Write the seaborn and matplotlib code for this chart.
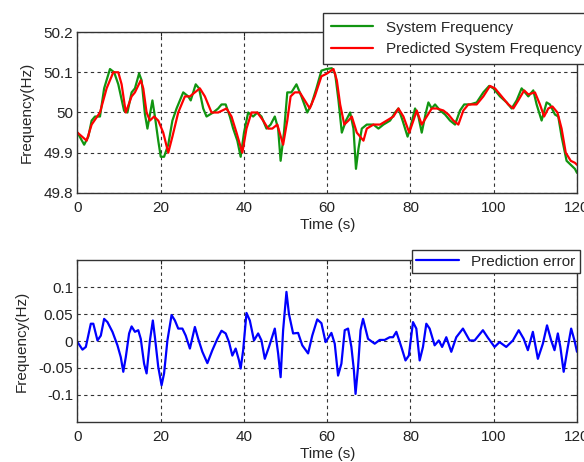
import matplotlib
matplotlib.use("Agg")
import matplotlib.pyplot as plt
import seaborn as sns

# values
t_sys = [0, 1.6, 2.6, 3.4, 4.2, 5.4, 6.4, 7.8, 8.8, 9.8, 11.2, 12, 13, 13.8, 14.8, 15.4, 16.2, 16.8,
         18, 18.6, 19.4, 20, 20.8, 21.8, 22.8, 23.8, 25.4, 26.6, 27.2, 28.4, 29.2, 30.2,
         31, 32.6, 33.8, 34.6, 35.6, 36.6, 37.4, 38.4, 39.2, 40, 41, 42.2, 43.2, 44.2, 45.4, 46.4,
         47.4, 48.2, 48.8, 49.6, 50.4, 51.4, 52.6, 53.8, 55.2, 56.2, 57.4, 58.6, 59.8,
         61.1, 61.9, 62.7, 63.5, 64.5, 65.5, 66.3, 66.9, 67.5, 68.3, 69.5, 71.1, 72.3, 73.5, 75.1,
         76.3, 77.1, 78.1, 79.3, 79.9, 81.1, 81.9, 82.7, 83.7, 84.3, 85.1, 85.9, 87.1, 88.3, 89.5,
         90.7, 91.9, 92.9, 94.3, 95.9, 97.5, 98.9, 99.9, 101.5, 103.1, 104.3, 105.5, 106.7, 107.5,
         108.3, 109.5, 110.3, 111.5, 112.7, 113.5, 114.7, 115.5, 116.3, 117.5, 118.5, 119.5, 120]
f_sys = [49.95, 49.92, 49.94, 49.98, 49.99, 49.99, 50.06, 50.108, 50.10, 50.07, 50.004, 50.0, 50.05,
         50.06, 50.097, 50.08, 49.996, 49.96, 50.03, 49.99, 49.93, 49.89, 49.89, 49.92, 49.98, 50.01,
         50.05, 50.04, 50.03, 50.07, 50.06, 50.01,
         49.99, 50.0, 50.01, 50.02, 50.02, 49.99, 49.96, 49.93, 49.89, 49.95, 50.0, 49.99, 50.0, 49.99,
         49.96, 49.97, 49.99, 49.96, 49.88, 49.95, 50.05, 50.05, 50.07, 50.04, 50.0, 50.02, 50.06,
         50.104, 50.108,
         50.11, 50.096, 50.03, 49.95, 49.98, 50.0, 49.96, 49.86, 49.91, 49.96, 49.97, 49.97, 49.96,
         49.97, 49.98, 50.0, 50.01, 49.98, 49.94, 49.96, 50.01, 49.99, 49.95, 50.0, 50.025, 50.01,
         50.02, 50.005, 49.995, 49.98, 49.97, 50.005, 50.02, 50.02, 50.025, 50.05, 50.066, 50.06,
         50.04, 50.025, 50.01, 50.03, 50.06, 50.05, 50.04, 50.055, 50.02, 49.98, 50.025, 50.02,
         49.995, 49.99, 49.94, 49.88, 49.87, 49.86, 49.85]

t_pred = [0, 2.2, 3.4, 5.4, 7, 8.6, 9.8, 10.6, 11.6, 13, 13.8, 15.2, 15.8, 16.6, 17.4, 18.4, 19.4,
          20.6, 21.8, 22.8, 24.2, 25.8, 27, 28.2, 29.4, 30.6,
          32.2, 33.8, 35.8, 37, 38.2, 39.6, 40.6, 41.8, 43.2, 44.6, 45.8, 46.8, 48, 49.4, 50.4, 51.2,
          52.2, 53.4, 54.6, 55.8, 57, 58.6, 59.8,
          61.5, 62.3, 63.1, 64.1, 65.1, 65.9, 67.1, 68.7, 69.5,
          71.1, 72.7, 74.3, 75.9, 77.1, 78.3, 79.7, 80.7, 81.5, 82.7, 83.9, 85.1, 86.3, 87.9, 89.1,
          90.3, 91.5, 92.7, 93.9, 95.9, 97.5, 99.1, 100.3, 101.9, 103.5, 104.7, 105.9, 107.3, 108.3,
          109.9, 111.1, 112.1, 113.1, 114.1, 115.3, 116.3, 117.3, 118.5, 119.5, 120]
f_pred = [49.95, 49.93, 49.97, 50.0, 50.06, 50.1, 50.1, 50.07, 50.0, 50.04, 50.05, 50.08, 50.06,
          50.0, 49.98, 49.99, 49.98, 49.95, 49.90, 49.94, 50.0, 50.04, 50.04, 50.05, 50.06, 50.04,
          50.0, 50.0, 50.01, 49.99, 49.95, 49.90, 49.96, 50.0, 50.0, 49.98, 49.96, 49.96, 49.97,
          49.92, 49.98, 50.04, 50.05, 50.05, 50.03, 50.01, 50.04, 50.09, 50.096,
          50.108, 50.08, 50.02, 49.97, 49.98, 49.99, 49.95, 49.93, 49.96,
          49.97, 49.97, 49.98, 49.99, 50.01, 49.99, 49.95, 49.98, 50.005, 49.97, 49.99, 50.01, 50.01,
          50.005, 49.995, 49.98, 49.97, 50.005, 50.02, 50.02, 50.04, 50.066, 50.06, 50.04, 50.02,
          50.01, 50.03, 50.055, 50.045, 50.05, 50.02, 49.99, 50.01, 50.015, 50.0, 49.96, 49.90,
          49.88, 49.875, 49.87]

t_err = [0, 1.2, 2, 3.2, 3.8, 4.8, 5.6, 6.4, 7.2, 8.4, 9.6, 10.4, 11, 11.6, 12.4, 13, 13.8, 14.6,
         15.2, 16, 16.6, 17.4, 18.1, 18.6, 19.4, 20.2, 20.8, 21.6, 22.6, 23.4, 24.2, 25.2, 26, 27,
         28.2, 29, 30, 31.2, 32.4, 33.6, 34.6, 35.6, 36.4, 37.2, 38, 38.8, 39.2, 39.8, 40.6, 41.4,
         42.4, 43.4, 44.2, 45, 46, 47.4, 48.2, 48.8, 49.4, 50.2, 50.8, 51.8, 53, 54, 55.4, 56.4,
         57.6, 58.6, 59.6,
         61, 61.8, 62.6, 63.4, 64.2, 65, 65.8, 66.4, 66.8, 67.4, 68, 68.6, 69.8, 71.4, 72.6, 73.8,
         75, 75.8, 76.6, 77.8, 78.8, 79.6, 80.6, 81.4, 82.2, 83, 83.8, 84.6, 85.8, 86.8, 87.6, 88.6,
         89.8, 91, 92.6, 94.2, 95.4, 97.4, 98.6, 100.2, 101.4, 103, 104.6, 106, 107.2, 108.2, 109.4,
         110.6, 111.8, 112.8, 113.8, 114.6, 115.4, 116, 116.8, 117.8, 118.6, 119.4, 120]
err = [-0.002, -0.016, -0.011, 0.032, 0.032, 0.001, 0.010, 0.041, 0.035, 0.017, -0.008, -0.03,
       -0.057, -0.03, 0.014, 0.027, 0.017, 0.02, 0.004, -0.042, -0.06, 0.001, 0.038, 0.007, -0.048,
       -0.082, -0.06, 0.001, 0.048, 0.038, 0.023, 0.023, 0.01, -0.014, 0.026, 0.004, -0.02, -0.041,
       -0.017, 0.004, 0.019, 0.014, -0.002, -0.027, -0.014, -0.036, -0.051, -0.017, 0.052, 0.038,
       0.001, 0.014, 0.001, -0.033, -0.011, 0.023, -0.023, -0.067, 0.02, 0.091, 0.05, 0.014, 0.015,
       -0.008, -0.023, 0.01, 0.04, 0.033, -0.002,
       0.015, -0.005, -0.064, -0.042, 0.02, 0.023, -0.011, -0.054, -0.098, -0.048, 0.02, 0.041,
       0.004, -0.005, 0.002, 0.002, 0.007, 0.007, 0.017, -0.011, -0.036, -0.027, 0.035, 0.023,
       -0.036, -0.011, 0.032, 0.023, -0.008, 0.001, -0.011, 0.007, -0.02, 0.007, 0.023, 0.001,
       0.001, 0.02, 0.006, -0.011, -0.002, -0.011, 0.001, 0.02, 0.004, -0.017, 0.017, -0.033,
       -0.005, 0.029, 0.001, -0.017, 0.014, -0.011, -0.057, -0.011, 0.023, 0.001, -0.02]

x_ticks = [0, 20, 40, 60, 80, 100, 120]
top_yticks = [49.8, 49.9, 50, 50.1, 50.2]
top_ylabels = ["49.8", "49.9", "50", "50.1", "50.2"]
bot_yticks = [-0.1, -0.05, 0, 0.05, 0.1]
bot_ylabels = ["-0.1", "-0.05", "0", "0.05", "0.1"]

sns.set_style("white")
plt.rcParams['font.family'] = ['Liberation Sans', 'DejaVu Sans']
plt.rcParams['font.size'] = 11

fig = plt.figure(figsize=(5.84, 4.62), dpi=100)
ax1 = fig.add_axes([0.1327, 0.5823, 0.988 - 0.1327, 0.9307 - 0.5823])
ax2 = fig.add_axes([0.1327, 0.0866, 0.988 - 0.1327, 0.4372 - 0.0866])

sns.lineplot(x=t_sys, y=f_sys, ax=ax1, color='#119511', lw=1.6, label='System Frequency',
             sort=False, estimator=None)
sns.lineplot(x=t_pred, y=f_pred, ax=ax1, color='#ff0000', lw=1.6, label='Predicted System Frequency',
             sort=False, estimator=None)
sns.lineplot(x=t_err, y=err, ax=ax2, color='#0000ff', lw=1.6, label='Prediction error',
             sort=False, estimator=None)

grid_kw = dict(color='#333333', linestyle=(0, (3, 3)), linewidth=0.8)
for ax, yt, yl, lim in [(ax1, top_yticks, top_ylabels, (49.8, 50.2)),
                        (ax2, bot_yticks, bot_ylabels, (-0.15, 0.15))]:
    ax.set_xlim(0, 120)
    ax.set_ylim(*lim)
    ax.set_xticks(x_ticks)
    ax.set_yticks(yt)
    ax.set_yticklabels(yl)
    ax.grid(True, **grid_kw)
    ax.tick_params(direction='in', length=3, width=0.8, top=True, right=True,
                   labelsize=11, colors='#222222', pad=3)
    ax.tick_params(axis='x', pad=6)
    for s in ax.spines.values():
        s.set_color('#333333')
        s.set_linewidth(1.0)
    ax.set_xlabel('Time (s)', fontsize=11, labelpad=2)
    ax.set_ylabel('Frequency(Hz)', fontsize=11, labelpad=7)

ax1.legend(loc='upper left', bbox_to_anchor=(0.553, 0.972), bbox_transform=fig.transFigure,
           fancybox=False, framealpha=1, edgecolor='#333333', fontsize=11,
           handlelength=2.8, labelspacing=0.5, borderpad=0.5, borderaxespad=0)
ax2.legend(loc='upper left', bbox_to_anchor=(0.705, 0.459), bbox_transform=fig.transFigure,
           fancybox=False, framealpha=1, edgecolor='#333333', fontsize=11,
           handlelength=2.8, borderpad=0.3, borderaxespad=0)

fig.savefig('out.png', dpi=100)
